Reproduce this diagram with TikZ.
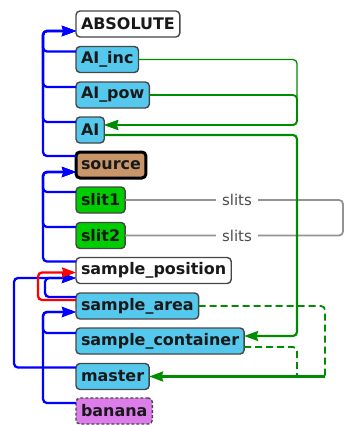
\documentclass[tikz,border=0pt]{standalone}
\usepackage{fontspec}
\setmainfont{DejaVu Sans}
\usetikzlibrary{arrows.meta}
\definecolor{boxblue}{RGB}{85,200,237}
\definecolor{slitgreen}{RGB}{0,205,0}
\definecolor{srcbrown}{RGB}{200,150,105}
\definecolor{bananaviolet}{RGB}{221,125,235}
\definecolor{edgegreen}{RGB}{0,140,0}
\definecolor{boxline}{RGB}{70,70,70}
\tikzset{
  cls/.style={draw=boxline, line width=1.4bp, rounded corners=4bp, anchor=west,
    minimum height=26bp, inner xsep=5bp, inner ysep=0pt, outer sep=0pt,
    font=\fontsize{16}{19}\selectfont\bfseries, text=black!90},
  plain/.style={cls, fill=white},
  comp/.style={cls, fill=boxblue},
  slitbox/.style={cls, fill=slitgreen},
  srcbox/.style={cls, fill=srcbrown, draw=black, line width=3bp},
  bananabox/.style={cls, fill=bananaviolet, dashed, dash pattern=on 3bp off 2bp},
  tip/.style={-{Stealth[length=14bp, width=10bp, inset=1.5bp]}},
  tree/.style={draw=blue, line width=2.3bp, rounded corners=4bp, tip},
  treered/.style={tree, draw=red},
  flow/.style={draw=edgegreen, line width=1.8bp, rounded corners=4bp},
  flowarrow/.style={flow, tip},
  flowdash/.style={flow, dash pattern=on 7bp off 4bp},
  slitlink/.style={draw=gray!85, line width=1.8bp, rounded corners=4bp},
  slitlabel/.style={fill=white, text=black!70, inner xsep=6bp, inner ysep=2bp,
    font=\fontsize{15}{18}\selectfont},
}
\begin{document}
\begin{tikzpicture}[x=1bp, y=-1bp]
\useasboundingbox (0,0) rectangle (345,425);

% component boxes
\node[plain]     (absolute)  at (76,24)    {ABSOLUTE};
\node[comp]      (aiinc)     at (76,59.5)  {AI\_inc};
\node[comp]      (aipow)     at (76,95)    {AI\_pow};
\node[comp]      (ai)        at (76,130)   {AI};
\node[srcbox]    (source)    at (76,165)   {source};
\node[slitbox]   (slitone)   at (76,200)   {slit1};
\node[slitbox]   (slittwo)   at (76,235.5) {slit2};
\node[plain]     (samplepos) at (76,270.5) {sample\_position};
\node[comp]      (samplearea) at (76,306)  {sample\_area};
\node[comp]      (samplecont) at (76,341)  {sample\_container};
\node[comp]      (master)    at (76,376.5) {master};
\node[bananabox] (banana)    at (76,411)   {banana};

% positional tree (child -> reference); the last stretch is sharp so the tip keeps its shape
\foreach \child/\dy in {aiinc/8bp, aipow/8bp, ai/8bp, source/9bp}
  \draw[tree] ([yshift=\dy]\child.west) -- ++(-33,0)
    |- ([xshift=-14bp,yshift=-7bp]absolute.west) [sharp corners] -- ([yshift=-7bp]absolute.west);

\foreach \child/\dy in {slitone/8bp, slittwo/8.5bp, samplepos/9bp}
  \draw[tree] ([yshift=\dy]\child.west) -- ++(-33,0)
    |- ([xshift=-14bp,yshift=-7bp]source.west) [sharp corners] -- ([yshift=-7bp]source.west);

\draw[tree] ([yshift=9bp]samplearea.west) -- ++(-31,0)
  |- ([xshift=-14bp,yshift=-7.5bp]samplepos.west) [sharp corners] -- ([yshift=-7.5bp]samplepos.west);
\draw[tree] ([yshift=9bp]master.west) -- ++(-62,0)
  |- ([xshift=-14bp,yshift=-7.5bp]samplepos.west) [sharp corners] -- ([yshift=-7.5bp]samplepos.west);
\draw[treered] ([yshift=6bp]samplearea.west) -- ++(-38,0)
  |- ([xshift=-14bp,yshift=-2bp]samplepos.west) [sharp corners] -- ([yshift=-2bp]samplepos.west);

\foreach \child in {samplecont, banana}
  \draw[tree] ([yshift=8bp]\child.west) -- ++(-33,0)
    |- ([xshift=-14bp,yshift=-6bp]samplearea.west) [sharp corners] -- ([yshift=-6bp]samplearea.west);

% slit link
\draw[slitlink] (slitone.east) -- (343,200) -- (343,235.5) -- (slittwo.east);
\node[slitlabel] (lblone) at (237,200)   {slits};
\node[slitlabel] (lbltwo) at (237,235.5) {slits};

% data flow
\draw[flowarrow, line width=1.3bp] (aiinc.east) -| (297,125)
  -- ([xshift=14bp,yshift=5bp]ai.east) [sharp corners] -- ([yshift=5bp]ai.east);
\draw[flowarrow] (aipow.east) -| (297,125)
  -- ([xshift=14bp,yshift=5bp]ai.east) [sharp corners] -- ([yshift=5bp]ai.east);
\draw[flowarrow, line width=2.2bp] ([yshift=-5bp]ai.east) -| (297,336)
  -- ([xshift=14bp,yshift=5bp]samplecont.east) [sharp corners] -- ([yshift=5bp]samplecont.east);

\coordinate (masterjoin) at (325,376.5);
\draw[flowdash] (samplearea.east) -| (masterjoin);
\draw[flowdash] ([yshift=-6bp]samplecont.east) -| (297,376.5);
\draw[flowarrow, line width=2.4bp, sharp corners] (masterjoin) -- (master.east);
\end{tikzpicture}
\end{document}
